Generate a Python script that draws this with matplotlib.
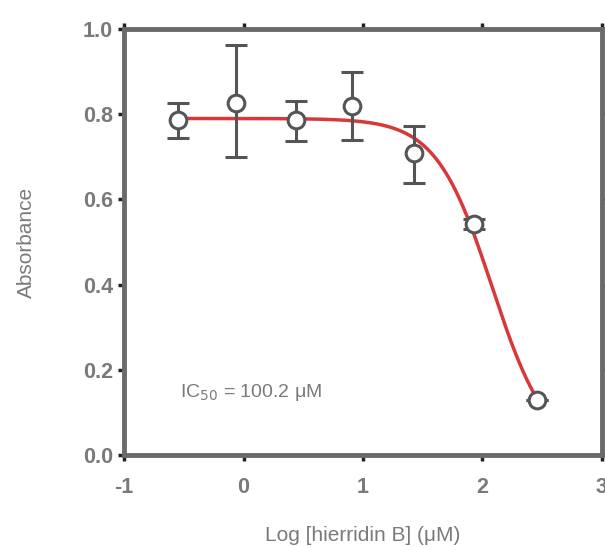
import numpy as np
import matplotlib.pyplot as plt

plt.rcParams['font.family'] = ['Liberation Sans', 'DejaVu Sans']
plt.rcParams['axes.unicode_minus'] = False

# measured points: log concentration, mean absorbance, error
log_conc = [-0.55, -0.06, 0.44, 0.91, 1.43, 1.93, 2.46]
absorb = [0.786, 0.826, 0.786, 0.820, 0.709, 0.543, 0.129]
err_lo = [0.042, 0.126, 0.049, 0.080, 0.071, 0.012, 0.0]
err_hi = [0.040, 0.136, 0.044, 0.080, 0.063, 0.012, 0.0]

# fitted dose-response curve parameters
top, bottom = 0.79, 0.0
log_ic50_fit = 2.08
hill = 1.85

xticks = [-1, 0, 1, 2, 3]
yticks = [0.0, 0.2, 0.4, 0.6, 0.8, 1.0]

grey = '#7a7a7a'
spine = '#6a6a6a'

fig = plt.figure(figsize=(6.05, 5.47), dpi=100)
ax = fig.add_axes([0.205, 0.168, 0.79, 0.779])

xs = np.linspace(log_conc[0], log_conc[-1], 300)
ys = bottom + (top - bottom) / (1 + 10 ** ((xs - log_ic50_fit) * hill))
ax.plot(xs, ys, color='#d9373a', lw=2.5, zorder=2)

ax.errorbar(log_conc, absorb, yerr=[err_lo, err_hi], fmt='o', ms=12,
            mfc='white', mec='#555555', mew=2.2, ecolor='#555555',
            elinewidth=2.2, capsize=8, capthick=2.8, zorder=3)

ax.set_xlim(-1, 3)
ax.set_ylim(0, 1.0)
ax.set_xticks(xticks)
ax.set_yticks(yticks)
ax.set_yticklabels(['%.1f' % v for v in yticks])

for s in ax.spines.values():
    s.set_color(spine)
    s.set_linewidth(3.5)
ax.tick_params(which='both', direction='out', length=4, width=2.5,
               color='#222222', labelcolor=grey, labelsize=15.5, pad=4,
               top=True, right=True)
ax.tick_params(axis='x', pad=12)
for lab in ax.get_xticklabels() + ax.get_yticklabels():
    lab.set_fontweight('bold')

ax.text(-0.53, 0.146, 'IC$_{50}$ = 100.2 μM', color=grey, fontsize=14,
        va='center', ha='left')

ax.set_xlabel('Log [hierridin B] (μM)', color=grey, fontsize=15, labelpad=20)
ax.set_ylabel('Absorbance', color=grey, fontsize=15, labelpad=34)

fig.savefig('out.png', dpi=100)
